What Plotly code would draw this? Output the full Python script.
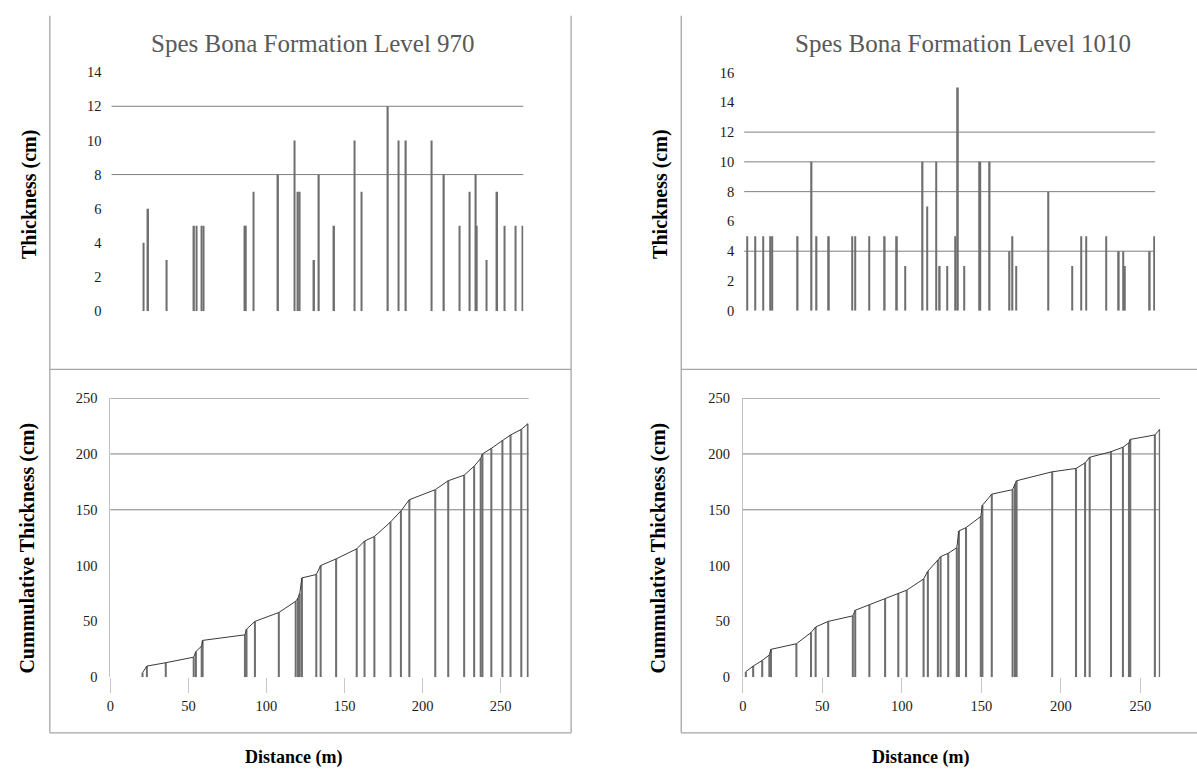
import plotly.graph_objects as go

W, H = 1197, 778

# ---------------- data ----------------
# Level 970: individual bed thickness (cm) at distance (m)
dist_970 = [20.8, 23.8, 35.9, 53.6, 55.3, 58.5, 59.6, 86.5, 87.3, 92.2,
            108.2, 119.0, 121.1, 122.2, 131.6, 134.7, 144.6, 157.7, 162.5, 179.5,
            186.3, 191.2, 208.0, 215.9, 225.9, 232.7, 236.6, 237.3, 243.6, 250.5,
            255.3, 262.4, 267.2]
thick_970 = [4, 6, 3, 5, 5, 5, 5, 5, 5, 7,
             8, 10, 7, 7, 3, 8, 5, 10, 7, 12,
             10, 10, 10, 8, 5, 7, 8, 5, 3, 7,
             5, 5, 5]

# Level 970: cumulative thickness (cm)
cdist_970 = [20.6, 23.4, 35.5, 53.4, 54.8, 58.5, 59.1, 86.2, 87.2, 92.6,
             107.9, 118.7, 120.2, 121.3, 122.7, 131.9, 134.7, 144.6, 157.8, 162.8,
             169.1, 179.4, 186.1, 191.5, 208.1, 216.4, 226.6, 233.0, 237.2, 238.3,
             244.0, 251.1, 256.3, 263.2, 267.4]
cum_970 = [4, 10, 13, 18, 23, 28, 33, 38, 43, 50,
           58, 68, 71, 75, 89, 92, 100, 106, 115, 122,
           126, 139, 149, 159, 168, 176, 181, 189, 196, 200,
           205, 212, 217, 222, 227]

# Level 1010: individual bed thickness (cm)
dist_1010 = [1.9, 7.2, 12.1, 17.0, 17.8, 34.2, 43.1, 46.3, 54.2, 69.0,
             70.9, 79.9, 89.9, 97.7, 103.0, 114.1, 117.0, 122.8, 125.1, 129.8,
             135.0, 136.7, 140.6, 150.3, 150.9, 157.0, 169.7, 171.6, 174.0, 194.6,
             209.9, 215.4, 218.6, 231.6, 239.6, 242.4, 243.5, 259.4, 262.3]
thick_1010 = [5, 5, 5, 5, 5, 5, 10, 5, 5, 5,
              5, 5, 5, 5, 3, 10, 7, 10, 3, 3,
              5, 15, 3, 10, 10, 10, 4, 5, 3, 8,
              3, 5, 5, 5, 4, 4, 3, 4, 5]

# Level 1010: cumulative thickness (cm)
cdist_1010 = [1.9, 6.5, 12.2, 16.7, 17.7, 33.7, 42.9, 45.8, 53.7, 69.2,
              70.7, 79.6, 89.5, 97.8, 103.1, 113.7, 116.4, 122.7, 124.4, 129.2,
              134.6, 135.9, 140.4, 149.7, 150.7, 156.6, 169.7, 171.2, 172.2, 194.6,
              209.6, 215.3, 218.2, 231.6, 239.1, 242.9, 243.7, 259.2, 262.3]
cum_1010 = [5, 10, 15, 20, 25, 30, 40, 45, 50, 55,
            60, 65, 70, 75, 78, 88, 95, 105, 108, 111,
            116, 131, 134, 144, 154, 164, 168, 173, 176, 184,
            187, 192, 197, 202, 206, 210, 213, 217, 222]

# horizontal reference lines shown in each panel
hlines_970 = [8, 12]
hlines_1010 = [4, 8, 10, 12]
hlines_cum = [150, 200, 250]

dist_ticks = [0, 50, 100, 150, 200, 250]
dist_labels = ["0", "50", "100", "150", "200", "250"]

titles = ["Spes Bona Formation Level 970", "Spes Bona Formation Level 1010"]

# ---------------- styling helpers ----------------
SERIF = "Liberation Serif"
TICKFONT = dict(family="Liberation Serif", size=14.5, color="#1a1a1a")
BAR_COL = "#6f6f6f"
GRID_COL = "#7f7f7f"
FRAME_COL = "#a6a6a6"


def px(v):
    return v / W


def py(v):
    return 1 - v / H


fig = go.Figure()

# top panels: thickness bars
fig.add_trace(go.Bar(x=dist_970, y=thick_970, width=1.0, marker=dict(color=BAR_COL, line=dict(width=0)),
                     xaxis="x", yaxis="y", showlegend=False))
fig.add_trace(go.Bar(x=dist_1010, y=thick_1010, width=1.0, marker=dict(color=BAR_COL, line=dict(width=0)),
                     xaxis="x2", yaxis="y2", showlegend=False))

# bottom panels: cumulative bars + connecting line
fig.add_trace(go.Bar(x=cdist_970, y=cum_970, width=1.3, marker=dict(color=BAR_COL, line=dict(width=0)),
                     xaxis="x3", yaxis="y3", showlegend=False))
fig.add_trace(go.Scatter(x=cdist_970, y=cum_970, mode="lines", line=dict(color="#3a3a3a", width=1),
                         xaxis="x3", yaxis="y3", showlegend=False))
fig.add_trace(go.Bar(x=cdist_1010, y=cum_1010, width=1.3, marker=dict(color=BAR_COL, line=dict(width=0)),
                     xaxis="x4", yaxis="y4", showlegend=False))
fig.add_trace(go.Scatter(x=cdist_1010, y=cum_1010, mode="lines", line=dict(color="#3a3a3a", width=1),
                         xaxis="x4", yaxis="y4", showlegend=False))

common_y = dict(showgrid=False, zeroline=False, ticks="", tickfont=TICKFONT, ticklabelstandoff=9,
                fixedrange=True)

layout = dict(
    width=W, height=H,
    margin=dict(l=0, r=0, t=0, b=0),
    paper_bgcolor="white", plot_bgcolor="white",
    barmode="overlay",
    showlegend=False,
    xaxis=dict(domain=[px(107.9), px(521.0)], range=[0, 267.4], visible=False, anchor="y"),
    yaxis=dict(domain=[py(309.5), py(65.5)], range=[0, 14], dtick=2, anchor="x", **common_y),
    xaxis2=dict(domain=[px(742.7), px(1155.0)], range=[0, 262.8], visible=False, anchor="y2"),
    yaxis2=dict(domain=[py(309.1), py(65.9)], range=[0, 16], dtick=2, anchor="x2", **common_y),
    xaxis3=dict(domain=[px(106.7), px(526.4)], range=[0, 267.9], anchor="y3",
                tickvals=dist_ticks, ticktext=dist_labels, ticks="outside", ticklen=15,
                tickcolor="#c8c8c8", tickwidth=1, showgrid=False, zeroline=False, showline=False,
                tickfont=TICKFONT),
    yaxis3=dict(domain=[py(683.3), py(398.3)], range=[0, 250], dtick=50, anchor="x3",
                showline=True, linecolor="#c0c0c0", linewidth=1, **common_y),
    xaxis4=dict(domain=[px(741.3), px(1160.0)], range=[0, 262.5], anchor="y4",
                tickvals=dist_ticks, ticktext=dist_labels, ticks="outside", ticklen=15,
                tickcolor="#c8c8c8", tickwidth=1, showgrid=False, zeroline=False, showline=False,
                tickfont=TICKFONT),
    yaxis4=dict(domain=[py(683.3), py(398.3)], range=[0, 250], dtick=50, anchor="x4",
                showline=True, linecolor="#c0c0c0", linewidth=1, **common_y),
)
fig.update_layout(**layout)

# horizontal reference lines through the axes' own scales
for ax, vals in (("", hlines_970), ("2", hlines_1010), ("3", hlines_cum), ("4", hlines_cum)):
    for v in vals:
        fig.add_shape(type="line", xref=f"x{ax} domain", yref=f"y{ax}", x0=0, x1=1, y0=v, y1=v,
                      line=dict(color=GRID_COL, width=1), layer="below")

# chart frames
frame = dict(color=FRAME_COL, width=1.3)
for x0, x1 in ((46, 569), (679.5, 1197)):
    fig.add_shape(type="line", xref="paper", yref="paper", x0=px(x0), x1=px(x0), y0=py(8), y1=py(740), line=frame)
    fig.add_shape(type="line", xref="paper", yref="paper", x0=px(x0), x1=px(x1), y0=py(369), y1=py(369), line=frame)
    fig.add_shape(type="line", xref="paper", yref="paper", x0=px(x0), x1=px(x1), y0=py(740), y1=py(740), line=frame)
fig.add_shape(type="line", xref="paper", yref="paper", x0=px(569), x1=px(569), y0=py(8), y1=py(740), line=frame)

# texts
def note(text, x, y, size, color="#000000", angle=0, bold=False, family=SERIF):
    t = f"<b>{text}</b>" if bold else text
    fig.add_annotation(text=t, x=px(x), y=py(y), xref="paper", yref="paper", showarrow=False,
                       textangle=angle, xanchor="center", yanchor="middle",
                       font=dict(family=family, size=size, color=color))

note(titles[0], 310.5, 36, 25, color="#595959")
note(titles[1], 962.6, 36, 25, color="#595959")
note("Thickness (cm)", 25, 190, 20, angle=-90, bold=True)
note("Thickness (cm)", 658, 190, 20, angle=-90, bold=True)
note("Cummulative Thickness (cm)", 24, 551, 20, angle=-90, bold=True)
note("Cummulative Thickness (cm)", 657, 551, 20, angle=-90, bold=True)
note("Distance (m)", 290, 765, 18, bold=True)
note("Distance (m)", 920, 765, 18, bold=True)

fig.write_html("out.html")
